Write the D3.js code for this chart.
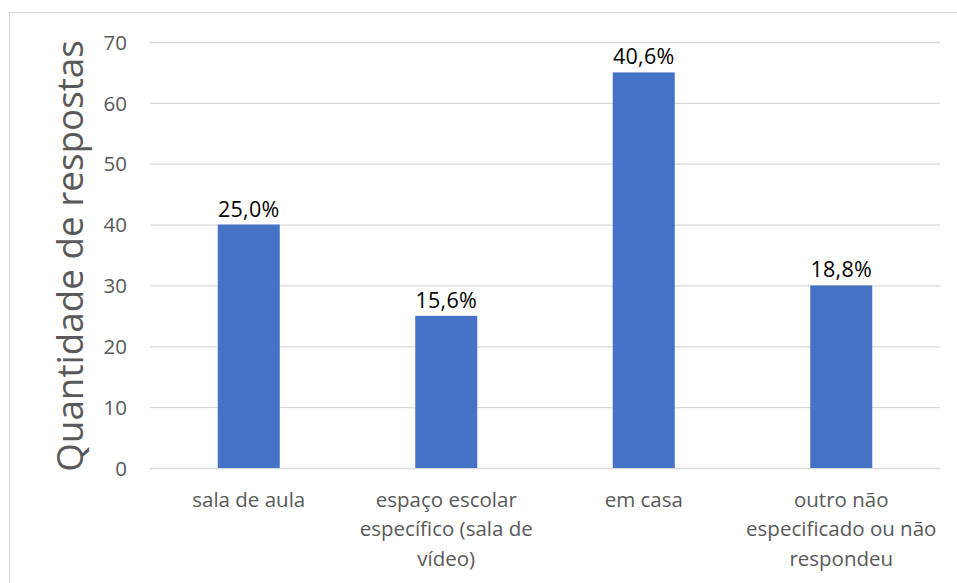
<!DOCTYPE html>
<html><head><meta charset="utf-8">
<script src="https://cdn.jsdelivr.net/npm/d3@7"></script>
<style>body{margin:0;background:#fff;} svg{display:block;}</style>
</head><body>
<svg id="c" width="957" height="583"></svg>
<script>
const categories = [["sala de aula"], ["espaço escolar", "específico (sala de", "vídeo)"], ["em casa"], ["outro não", "especificado ou não", "respondeu"]];
const values = [40, 25, 65, 30];
const percentLabels = ["25,0%", "15,6%", "40,6%", "18,8%"];
const yTicks = [0, 10, 20, 30, 40, 50, 60, 70];
const yTitle = "Quantidade de respostas";

(function () {
const font = "'Open Sans', sans-serif";
const svg = d3.select("#c");
svg.append("rect").attr("x", 9.5).attr("y", 12.5).attr("width", 957).attr("height", 600)
  .attr("fill", "#fff").attr("stroke", "#d9d9d9");

const mLeft = 150, mRight = 940, mTop = 42, mBottom = 468;
const x = d3.scaleBand().domain(d3.range(values.length)).range([mLeft, mRight]).paddingInner(0.686).paddingOuter(0.343);
const y = d3.scaleLinear().domain([0, 70]).range([mBottom, mTop]);

const yAxis = svg.append("g").attr("transform", `translate(${mLeft},0)`)
  .call(d3.axisLeft(y).tickValues(yTicks).tickSize(-(mRight - mLeft)).tickPadding(23));
yAxis.select(".domain").remove();
yAxis.selectAll(".tick line").attr("stroke", "#d9d9d9").attr("stroke-width", 1.3);
yAxis.selectAll(".tick text").attr("fill", "#595959").attr("dy", "0.35em")
  .style("font-family", font).style("font-size", "20.5px");

svg.append("g").selectAll("rect").data(values).join("rect")
  .attr("x", (d, i) => x(i)).attr("width", x.bandwidth())
  .attr("y", d => y(d)).attr("height", d => y(0) - y(d))
  .attr("fill", "#4472c4");

svg.append("g").selectAll("text").data(values).join("text")
  .attr("x", (d, i) => x(i) + x.bandwidth() / 2).attr("y", d => y(d) - 8)
  .attr("text-anchor", "middle").attr("fill", "#000")
  .style("font-family", font).style("font-size", "21.5px").style("letter-spacing", "0.3px")
  .text((d, i) => percentLabels[i]);

const cat = svg.append("g").selectAll("text").data(categories).join("text")
  .attr("x", (d, i) => x(i) + x.bandwidth() / 2).attr("y", 507)
  .attr("text-anchor", "middle").attr("fill", "#595959")
  .style("font-family", font).style("font-size", "20.5px");
cat.selectAll("tspan").data(d => d).join("tspan")
  .attr("x", function () { return d3.select(this.parentNode).attr("x"); })
  .attr("dy", (d, j) => j === 0 ? 0 : 29.3).text(d => d);

svg.append("text").attr("transform", `translate(83,${(mTop + mBottom) / 2 + 1}) rotate(-90)`)
  .attr("text-anchor", "middle").attr("fill", "#595959")
  .style("font-family", font).style("font-size", "36.8px").text(yTitle);
})();
</script>
</body></html>
